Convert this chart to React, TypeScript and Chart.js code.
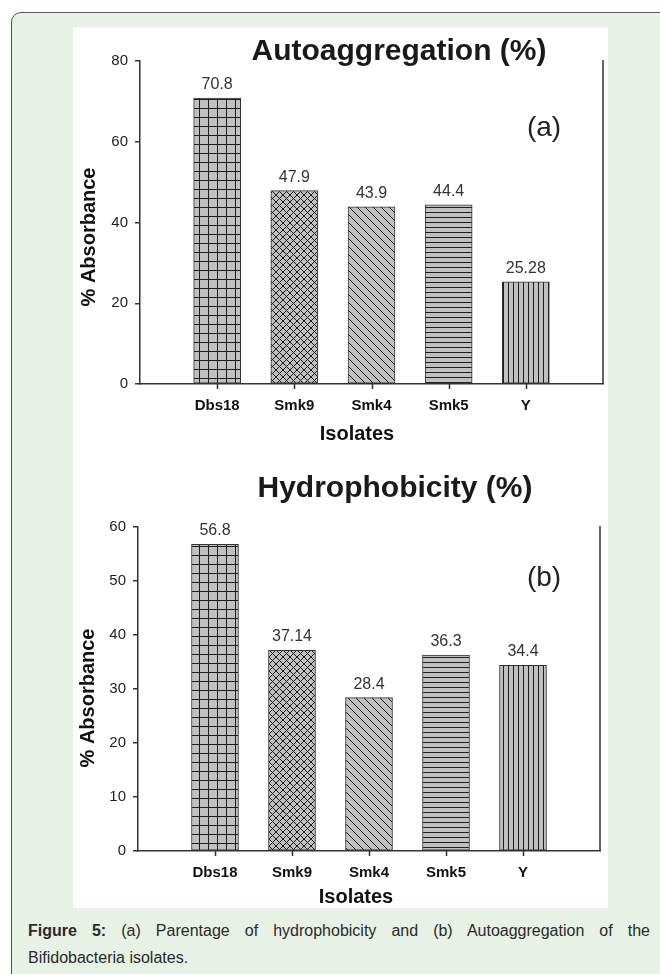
import React, { useEffect, useRef } from 'react';
import { Chart, registerables } from 'chart.js';

Chart.register(...registerables);

const isolates = ['Dbs18', 'Smk9', 'Smk4', 'Smk5', 'Y'];
const axisLabels = ['', ...isolates, ''];
const autoaggregation = [70.8, 47.9, 43.9, 44.4, 25.28];
const hydrophobicity = [56.8, 37.14, 28.4, 36.3, 34.4];
const autoTicks = [0, 20, 40, 60, 80];
const hydroTicks = [0, 10, 20, 30, 40, 50, 60];
const patternKinds = ['grid', 'cross', 'diag', 'hlines', 'vlines'];

const FONT = "'Liberation Sans', Arial, Helvetica, sans-serif";
const FILL = '#c0c0c0';
const INK = '#1e1e1e';

function makePattern(kind: string): CanvasPattern | string {
  const c = document.createElement('canvas');
  let w = 8, h = 8;
  if (kind === 'grid') { w = 9; h = 9; }
  if (kind === 'cross') { w = 7; h = 7; }
  if (kind === 'diag') { w = 8; h = 8; }
  if (kind === 'hlines') { w = 4; h = 5; }
  if (kind === 'vlines') { w = 5; h = 4; }
  c.width = w; c.height = h;
  const g = c.getContext('2d')!;
  g.fillStyle = FILL;
  g.fillRect(0, 0, w, h);
  g.strokeStyle = INK;
  g.lineWidth = 1;
  g.beginPath();
  if (kind === 'grid') {
    g.moveTo(0.5, 0); g.lineTo(0.5, h);
    g.moveTo(0, 0.5); g.lineTo(w, 0.5);
  } else if (kind === 'cross') {
    for (const k of [-w, 0, w]) {
      g.moveTo(k, 0); g.lineTo(k + w, h);
      g.moveTo(k + w, 0); g.lineTo(k, h);
    }
  } else if (kind === 'diag') {
    for (const k of [-w, 0, w]) {
      g.moveTo(k, 0); g.lineTo(k + w, h);
    }
  } else if (kind === 'hlines') {
    g.moveTo(0, 0.5); g.lineTo(w, 0.5);
  } else if (kind === 'vlines') {
    g.moveTo(0.5, 0); g.lineTo(0.5, h);
  }
  g.stroke();
  return g.createPattern(c, 'repeat') || FILL;
}

type PanelCfg = {
  x: number; y: number; w: number; h: number;
  yw: number; xh: number; pt: number; pr: number;
  titleX: number; titleY: number;
  tagX: number; tagY: number;
  yTitleX: number; yTitleY: number;
  xTitleX: number; xTitleY: number;
};

function BarPanel(props: { values: number[]; ticks: number[]; title: string; tag: string; cfg: PanelCfg }) {
  const ref = useRef<HTMLCanvasElement | null>(null);
  const { values, ticks, title, tag, cfg } = props;
  useEffect(() => {
    if (!ref.current) return;
    const patterns = patternKinds.map(makePattern);
    const data = [null, ...values, null];
    const bg = ['transparent', ...patterns, 'transparent'];
    const textPlugin = {
      id: 'texts',
      afterDraw(chart: any) {
        const ctx = chart.ctx as CanvasRenderingContext2D;
        const a = chart.chartArea;
        const xs = chart.scales.x;
        ctx.save();
        ctx.strokeStyle = '#333';
        ctx.lineWidth = 1.5;
        ctx.beginPath();
        ctx.moveTo(a.right, a.top - 1);
        ctx.lineTo(a.right, a.bottom);
        isolates.forEach((_, i) => {
          const px = Math.round(xs.getPixelForValue(i + 1)) + 0.5;
          ctx.moveTo(px, a.bottom);
          ctx.lineTo(px, a.bottom + 5);
        });
        ctx.stroke();
        const meta = chart.getDatasetMeta(0);
        ctx.fillStyle = '#333';
        ctx.font = `16px ${FONT}`;
        ctx.textAlign = 'center';
        ctx.textBaseline = 'alphabetic';
        meta.data.forEach((bar: any, i: number) => {
          const v = data[i];
          if (v === null || v === undefined) return;
          ctx.fillText(String(v), bar.x, bar.y - 9);
        });
        ctx.fillStyle = '#1a1a1a';
        ctx.font = `bold 30px ${FONT}`;
        ctx.fillText(title, cfg.titleX, cfg.titleY);
        ctx.fillStyle = '#222';
        ctx.font = `28px ${FONT}`;
        ctx.textBaseline = 'middle';
        ctx.fillText(tag, cfg.tagX, cfg.tagY);
        ctx.fillStyle = '#111';
        ctx.font = `bold 20px ${FONT}`;
        ctx.textBaseline = 'alphabetic';
        ctx.fillText('Isolates', cfg.xTitleX, cfg.xTitleY);
        ctx.translate(cfg.yTitleX, cfg.yTitleY);
        ctx.rotate(-Math.PI / 2);
        ctx.textBaseline = 'middle';
        ctx.fillText('% Absorbance', 0, 0);
        ctx.restore();
      },
    };
    const chart = new Chart(ref.current, {
      type: 'bar',
      data: {
        labels: axisLabels,
        datasets: [{
          data: data as any,
          backgroundColor: bg as any,
          borderColor: '#333',
          borderWidth: 1,
          borderSkipped: false,
          barThickness: 47,
        }],
      },
      options: {
        responsive: false,
        maintainAspectRatio: false,
        animation: false,
        layout: { padding: { left: 0, top: cfg.pt, right: cfg.pr, bottom: 0 } },
        plugins: { legend: { display: false }, tooltip: { enabled: false }, title: { display: false } },
        scales: {
          x: {
            type: 'category',
            offset: false,
            afterFit: (s: any) => { s.height = cfg.xh; },
            grid: { display: false, offset: false, drawTicks: true, tickLength: 10 },
            border: { display: true, color: '#333', width: 1.5 },
            ticks: { autoSkip: false, maxRotation: 0, padding: 3, color: '#111', font: { family: FONT, size: 15, weight: 'bold' } },
          },
          y: {
            min: ticks[0],
            max: ticks[ticks.length - 1],
            afterFit: (s: any) => { s.width = cfg.yw; },
            afterBuildTicks: (s: any) => { s.ticks = ticks.map((v) => ({ value: v })); },
            grid: { display: true, drawOnChartArea: false, drawTicks: true, tickLength: 5, lineWidth: 1.5, color: '#333' },
            border: { display: true, color: '#333', width: 1.5 },
            ticks: { padding: 7, color: '#1e1e1e', font: { family: FONT, size: 15 } },
          },
        },
      },
      plugins: [textPlugin],
    });
    return () => chart.destroy();
  }, []);
  return (
    <canvas
      ref={ref}
      width={cfg.w}
      height={cfg.h}
      style={{ position: 'absolute', left: cfg.x, top: cfg.y, width: cfg.w, height: cfg.h }}
    />
  );
}

const topCfg: PanelCfg = {
  x: 73, y: 27, w: 535, h: 420,
  yw: 67, xh: 63, pt: 34, pr: 5,
  titleX: 326, titleY: 33,
  tagX: 471, tagY: 101,
  yTitleX: 16, yTitleY: 210,
  xTitleX: 284, xTitleY: 413,
};

const bottomCfg: PanelCfg = {
  x: 73, y: 447, w: 535, h: 461,
  yw: 65, xh: 57, pt: 80, pr: 8,
  titleX: 322, titleY: 50,
  tagX: 471, tagY: 131,
  yTitleX: 15, yTitleY: 251,
  xTitleX: 283, xTitleY: 456,
};

export default function App() {
  return (
    <div style={{ position: 'relative', width: 660, height: 974, overflow: 'hidden', background: '#fff' }}>
      <style>{'html,body{margin:0;padding:0;overflow:hidden;}'}</style>
      <div
        style={{
          position: 'absolute', left: 11, top: 12, width: 720, height: 1020,
          background: '#e8f1e6', border: '1.5px solid #555', borderRadius: 10, boxSizing: 'border-box',
        }}
      />
      <div style={{ position: 'absolute', left: 73, top: 27, width: 535, height: 881, background: '#fff' }} />
      <BarPanel values={autoaggregation} ticks={autoTicks} title="Autoaggregation (%)" tag="(a)" cfg={topCfg} />
      <BarPanel values={hydrophobicity} ticks={hydroTicks} title="Hydrophobicity (%)" tag="(b)" cfg={bottomCfg} />
      <div
        style={{
          position: 'absolute', left: 28, top: 917, width: 622,
          fontFamily: "'Liberation Sans', Arial, sans-serif",
          fontSize: 16, lineHeight: '27px', color: '#2a2a2a',
        }}
      >
        <div style={{ textAlign: 'justify', textAlignLast: 'justify', whiteSpace: 'nowrap' as any }}>
          <b>Figure 5:</b> (a) Parentage of hydrophobicity and (b) Autoaggregation of the
        </div>
        <div>Bifidobacteria isolates.</div>
      </div>
    </div>
  );
}
